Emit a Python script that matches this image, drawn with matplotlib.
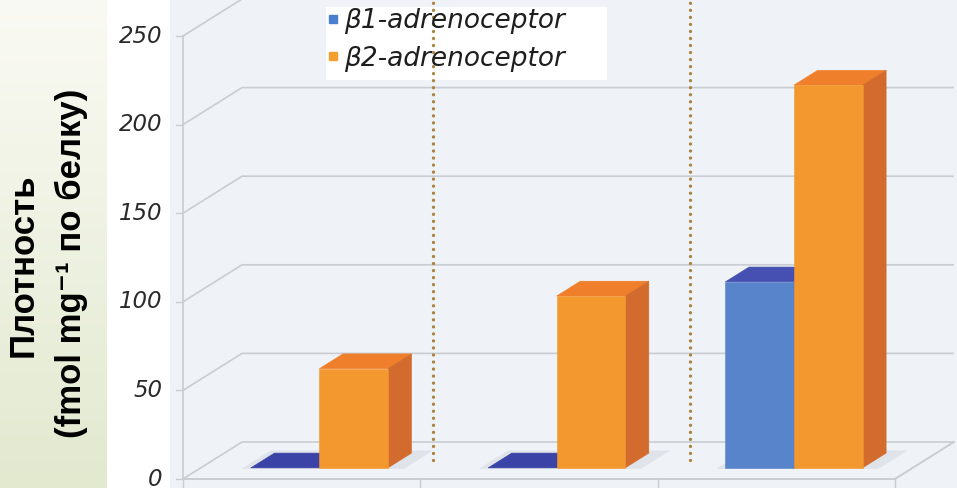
import numpy as np
import matplotlib
matplotlib.use("Agg")
import matplotlib.pyplot as plt
from matplotlib.patches import Polygon, Rectangle
from matplotlib.lines import Line2D
from matplotlib.font_manager import FontProperties
from matplotlib.colors import LinearSegmentedColormap

# ---- data ----
groups = [0, 1, 2]
series = ["β1-adrenoceptor", "β2-adrenoceptor"]
beta1 = [0, 0, 105]
beta2 = [56, 97, 216]
yticks = [0, 50, 100, 150, 200, 250]
ylabel_main = "Плотность"
ylabel_units = "(fmol mg⁻¹ по белку)"

W, H = 957, 488
fig = plt.figure(figsize=(W / 100, H / 100), dpi=100)
fig.patch.set_facecolor("white")

# ---- oblique frame geometry (pixels) ----
X0, CAT_W = 183, 237.3      # front-left corner x, width of one category
Y0, UNIT_H = 479, 1.772     # front baseline y, pixels per unit
DX, DY = 59, 37             # shift of the back wall (right, up)
BAR_D0, BAR_D1 = 0.30, 0.70 # depth range of the bars
BAR_W = 0.289               # bar width in category units

# left green strip
strip = fig.add_axes([0, 0, 107 / W, 1], zorder=-3)
grad = np.linspace(0, 1, 256).reshape(-1, 1)
cmap = LinearSegmentedColormap.from_list("strip", ["#fafaf4", "#e2e9cf"])
strip.imshow(grad, aspect="auto", cmap=cmap, extent=[0, 1, 0, 1], origin="upper")
strip.axis("off")

# chart panel background
fig.add_artist(Rectangle((170 / W, 0), 1 - 170 / W, 1, transform=fig.transFigure,
                         facecolor="#eff2f6", edgecolor="none", zorder=-2))

ax = fig.add_axes([0, 0, 1, 1], zorder=1)
ax.set_xlim(-X0 / CAT_W, (W - X0) / CAT_W)
ax.set_ylim(-(H - Y0) / UNIT_H, Y0 / UNIT_H)
ax.axis("off")
ax.patch.set_alpha(0)

kx = DX / CAT_W
ky = DY / UNIT_H
ncat = len(groups)
top = yticks[-1]


def P(x, v, d):
    return (x + d * kx, v + d * ky)


grid_c = "#c9cdd3"
# back-wall gridlines and left-wall diagonals
for t in yticks:
    ax.plot(*zip(P(0, t, 0), P(0, t, 1), P(ncat, t, 1)), color=grid_c, lw=1.2,
            solid_capstyle="butt", zorder=1)
    ax.plot(*zip(P(-0.028, t, 0), P(0, t, 0)), color=grid_c, lw=1.0, zorder=1)
    ax.text(-0.088, t, str(t), ha="right", va="center", fontsize=16.5,
            fontstyle="italic", family="DejaVu Sans", color="#2a2a2a", zorder=3)

# front axis and floor
ax.plot(*zip(P(0, 0, 0), P(0, top, 0)), color=grid_c, lw=1.2, zorder=1)
ax.plot(*zip(P(0, 0, 0), P(ncat, 0, 0), P(ncat, 0, 1)), color=grid_c, lw=1.4, zorder=1)
for i in range(ncat + 1):
    ax.plot([i, i], [0, -8], color=grid_c, lw=1.0, zorder=1)

styles = [
    dict(front="#5884cb", top="#4650b2", side="#3f58a6", flat="#3b44a6", mark="#4a7fd0"),
    dict(front="#f3982f", top="#ef7f2a", side="#d26b2d", flat="#ef7f2a", mark="#f4a030"),
]


def poly(pts, color, z):
    ax.add_patch(Polygon(pts, closed=True, facecolor=color, edgecolor=color,
                         lw=0.4, zorder=z))


for i in groups:
    xc = i + 0.5
    # soft shadow on the floor
    sx0, sx1 = xc - BAR_W - 0.03, xc + BAR_W + 0.07
    poly([P(sx0, 0, BAR_D0 - 0.02), P(sx1, 0, BAR_D0 - 0.02),
          P(sx1, 0, BAR_D1 + 0.06), P(sx0, 0, BAR_D1 + 0.06)], "#dfe3ea", 2)
    for s, vals in enumerate([beta1, beta2]):
        v = vals[i]
        st = styles[s]
        x0 = xc - BAR_W + s * BAR_W
        x1 = x0 + BAR_W
        z = 3 + s
        topc = st["top"] if v > 0 else st["flat"]
        poly([P(x0, v, BAR_D0), P(x1, v, BAR_D0), P(x1, v, BAR_D1), P(x0, v, BAR_D1)], topc, z)
        if v > 0:
            poly([P(x1, 0, BAR_D0), P(x1, v, BAR_D0), P(x1, v, BAR_D1), P(x1, 0, BAR_D1)],
                 st["side"], z)
            poly([P(x0, 0, BAR_D0), P(x1, 0, BAR_D0), P(x1, v, BAR_D0), P(x0, v, BAR_D0)],
                 st["front"], z)

# legend panel
ax.add_patch(Rectangle((326 / W, 1 - 80 / H), (607 - 326) / W, 73 / H,
                       transform=fig.transFigure, facecolor="white",
                       edgecolor="none", zorder=5))

# dotted separators between the groups
for xs in [(433 - X0) / CAT_W, (690 - X0) / CAT_W]:
    ax.plot([xs, xs], [(Y0 - 460) / UNIT_H, Y0 / UNIT_H], color="#a8843f", lw=2.4,
            linestyle=(0, (0.01, 2.1)), dash_capstyle="round", zorder=6)

handles = [Line2D([], [], marker="s", ls="none", color=styles[k]["mark"], markersize=5.5)
           for k in range(2)]
leg = ax.legend(handles, series, loc="upper left", bbox_to_anchor=(328 / W, 1 - 8 / H),
                bbox_transform=fig.transFigure, frameon=False,
                prop=FontProperties(family="DejaVu Sans", style="italic", size=19),
                handlelength=0.4, handletextpad=0.2, borderpad=0, labelspacing=0.44,
                borderaxespad=0)
leg.set_zorder(7)
for t in leg.get_texts():
    t.set_color("#1e1e1e")

# y-axis title
fig.text(23 / W, 1 - 265 / H, ylabel_main, rotation=90, ha="center", va="center",
         fontsize=25, fontweight="bold", family=["Liberation Sans", "DejaVu Sans"], color="black")
fig.text(71 / W, 1 - 263 / H, ylabel_units, rotation=90, ha="center", va="center",
         fontsize=25, fontweight="bold", family=["Liberation Sans", "DejaVu Sans"], color="black")

fig.savefig("out.png", dpi=100)
